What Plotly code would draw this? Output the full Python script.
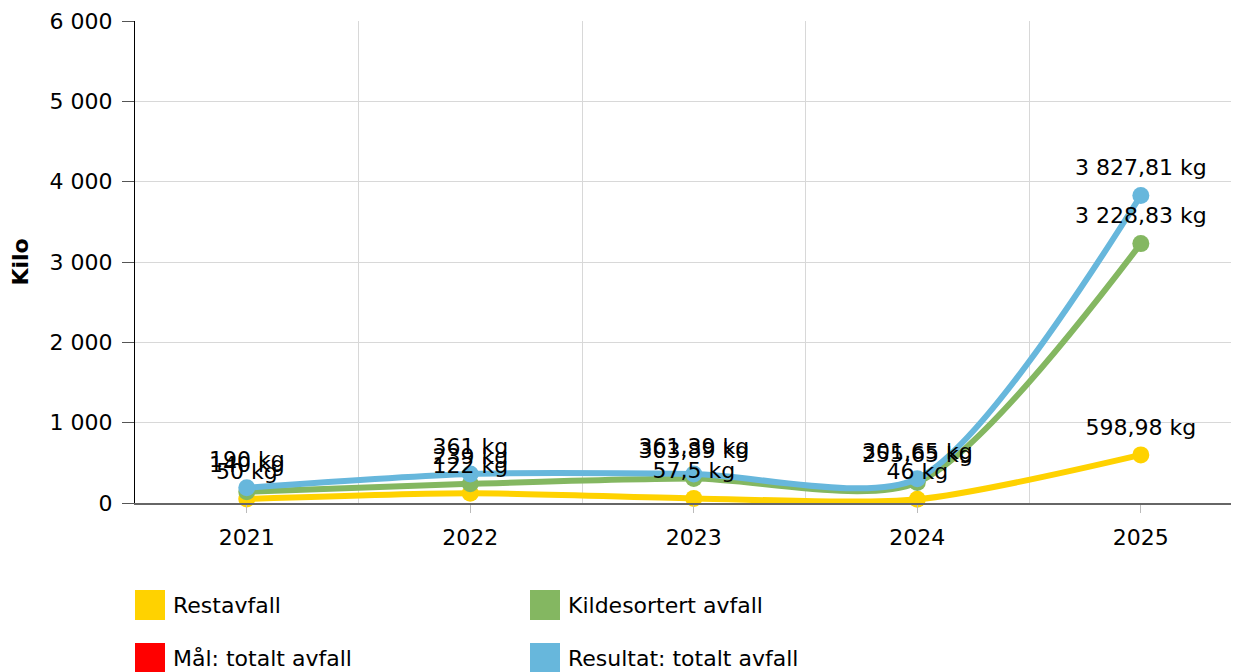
import plotly.graph_objects as go

years = ["2021", "2022", "2023", "2024", "2025"]
restavfall = [50, 122, 57.5, 46, 598.98]
kildesortert = [140, 239, 303.89, 255.65, 3228.83]
resultat = [190, 361, 361.39, 301.65, 3827.81]
maal = [None, None, None, None, None]

y_ticks = [0, 1000, 2000, 3000, 4000, 5000, 6000]
y_tick_labels = ["0", "1 000", "2 000", "3 000", "4 000", "5 000", "6 000"]

FONT = "DejaVu Sans, Verdana, sans-serif"
FS = 22


def fmt(v):
    s = f"{v:,.2f}".rstrip("0").rstrip(".")
    s = s.replace(",", " ").replace(".", ",")
    return s + " kg"


series = [
    ("Restavfall", restavfall, "#FFD200"),
    ("Kildesortert avfall", kildesortert, "#84B761"),
    ("Mål: totalt avfall", maal, "#FF0000"),
    ("Resultat: totalt avfall", resultat, "#67B7DC"),
]

xi = list(range(len(years)))

fig = go.Figure()
for name, vals, col in series:
    fig.add_trace(go.Scatter(
        x=xi, y=vals, name=name,
        mode="lines+markers",
        line=dict(color=col, width=6, shape="spline", smoothing=0.75),
        marker=dict(color=col, size=17),
        cliponaxis=False,
        showlegend=False,
    ))
# data labels
for name, vals, col in series:
    fig.add_trace(go.Scatter(
        x=xi, y=vals, mode="markers+text",
        marker=dict(size=22, opacity=0),
        text=[fmt(v) if v is not None else "" for v in vals],
        textposition="top center",
        textfont=dict(family=FONT, size=FS, color="#000"),
        cliponaxis=False, showlegend=False, hoverinfo="skip",
    ))

# Manual legend (big square swatches)
L, T, W, H = 127, 13, 1112, 482
def px(x):
    return (x - L) / W
def py(y):
    return (T + H - y) / H

legend_pos = [(127, 582), (522, 582), (127, 635), (522, 635)]
for (name, vals, col), (lx, ly) in zip(series, legend_pos):
    fig.add_shape(type="rect", xref="paper", yref="paper",
                  x0=px(lx), x1=px(lx + 30), y0=py(ly), y1=py(ly + 30),
                  fillcolor=col, line=dict(width=0))
    fig.add_annotation(xref="paper", yref="paper", x=px(lx + 36), y=py(ly + 15),
                       text=name, showarrow=False, xanchor="left", yanchor="middle",
                       font=dict(family=FONT, size=FS, color="#000"))

fig.update_layout(
    width=1239, height=672,
    margin=dict(l=127, r=0, t=13, b=177),
    paper_bgcolor="white", plot_bgcolor="white",
    font=dict(family=FONT, size=FS, color="#000"),
    xaxis=dict(
        range=[-0.5, 4.475],
        tickvals=xi, ticktext=years,
        showgrid=False,
        minor=dict(tick0=0.5, dtick=1, showgrid=True, gridcolor="#d8d8d8", gridwidth=1, ticks=""),
        showline=True, linecolor="#666", linewidth=2,
        ticks="outside", ticklen=8, tickcolor="#bbbbbb",
        ticklabelstandoff=6,
        zeroline=False,
        tickfont=dict(family=FONT, size=FS, color="#000"),
    ),
    yaxis=dict(
        range=[0, 6000], tickvals=y_ticks, ticktext=y_tick_labels,
        showgrid=True, gridcolor="#d8d8d8", gridwidth=1,
        showline=True, linecolor="#000", linewidth=1,
        ticks="outside", ticklen=12, tickcolor="#555",
        ticklabelstandoff=5,
        zeroline=False,
        tickfont=dict(family=FONT, size=FS, color="#000"),
        title=dict(text="<b>Kilo</b>", font=dict(family=FONT, size=FS, color="#000"), standoff=16),
    ),
)

fig.write_html("out.html")
